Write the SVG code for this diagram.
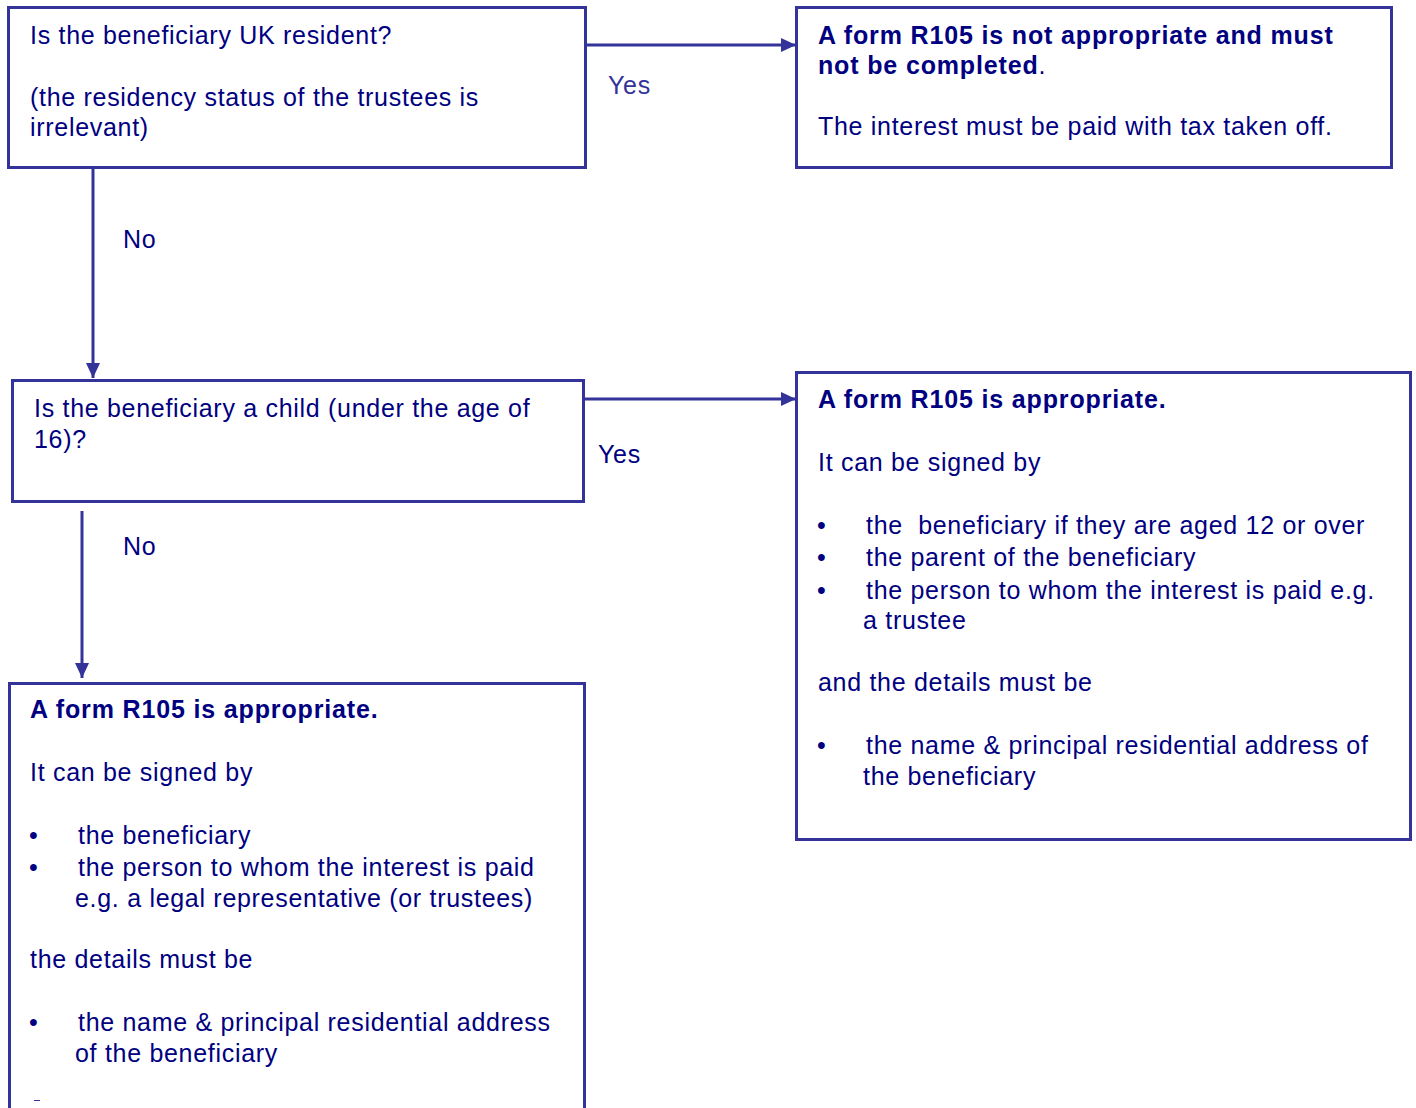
<svg xmlns="http://www.w3.org/2000/svg" width="1416" height="1108" viewBox="0 0 1416 1108">
<defs>
<marker id="ah" viewBox="0 0 15 14" refX="15" refY="7" markerWidth="15" markerHeight="14" markerUnits="userSpaceOnUse" orient="auto">
<path d="M0,0 L15,7 L0,14 Z" fill="#333399"/>
</marker>
</defs>
<style>
.box{fill:#fff;stroke:#333399;stroke-width:3}
.t{font-family:"Liberation Sans",Arial,sans-serif;font-size:25px;letter-spacing:0.7px;fill:#000080}
.b{font-weight:bold;letter-spacing:0.85px}
.pre{white-space:pre}
.lbl{font-family:"Liberation Sans",Arial,sans-serif;font-size:25px;letter-spacing:0.7px}
.conn{stroke:#333399;stroke-width:3;fill:none}
</style>
<rect width="1416" height="1108" fill="#fff"/>
<g id="connectors">
<line class="conn" x1="586" y1="45" x2="796" y2="45" marker-end="url(#ah)"/>
<line class="conn" x1="93" y1="168" x2="93" y2="378" marker-end="url(#ah)"/>
<line class="conn" x1="584" y1="399" x2="796" y2="399" marker-end="url(#ah)"/>
<line class="conn" x1="82" y1="511" x2="82" y2="678" marker-end="url(#ah)"/>
<text class="lbl" x="608" y="94" fill="#333399">Yes</text>
<text class="lbl" x="123" y="248" fill="#000080">No</text>
<text class="lbl" x="598" y="463" fill="#000080">Yes</text>
<text class="lbl" x="123" y="555" fill="#000080">No</text>
</g>
<g id="q1">
<rect class="box" x="8.5" y="7.5" width="577" height="160"/>
<text class="t" x="30" y="44">Is the beneficiary UK resident?</text>
<text class="t" x="30" y="106">(the residency status of the trustees is</text>
<text class="t" x="30" y="136">irrelevant)</text>
</g>
<g id="notAppropriate">
<rect class="box" x="796.5" y="7.5" width="595" height="160"/>
<text class="t b" x="818" y="44">A form R105 is not appropriate and must</text>
<text class="t" x="818" y="74"><tspan class="b">not be completed</tspan>.</text>
<text class="t" x="818" y="135">The interest must be paid with tax taken off.</text>
</g>
<g id="q2">
<rect class="box" x="12.5" y="380.5" width="571" height="121"/>
<text class="t" x="34" y="417">Is the beneficiary a child (under the age of</text>
<text class="t" x="34" y="448">16)?</text>
</g>
<g id="childAppropriate">
<rect class="box" x="796.5" y="372.5" width="614" height="467"/>
<text class="t b" x="818" y="408">A form R105 is appropriate.</text>
<text class="t" x="818" y="471">It can be signed by</text>
<text class="t" x="817" y="534">•</text>
<text class="t pre" x="866" y="534">the  beneficiary if they are aged 12 or over</text>
<text class="t" x="817" y="566">•</text>
<text class="t" x="866" y="566">the parent of the beneficiary</text>
<text class="t" x="817" y="599">•</text>
<text class="t" x="866" y="599">the person to whom the interest is paid e.g.</text>
<text class="t" x="863" y="629">a trustee</text>
<text class="t" x="818" y="691">and the details must be</text>
<text class="t" x="817" y="754">•</text>
<text class="t" x="866" y="754">the name &amp; principal residential address of</text>
<text class="t" x="863" y="785">the beneficiary</text>
</g>
<g id="adultAppropriate">
<rect class="box" x="9.5" y="683.5" width="575" height="440"/>
<text class="t b" x="30" y="718">A form R105 is appropriate.</text>
<text class="t" x="30" y="781">It can be signed by</text>
<text class="t" x="29" y="844">•</text>
<text class="t" x="78" y="844">the beneficiary</text>
<text class="t" x="29" y="876">•</text>
<text class="t" x="78" y="876">the person to whom the interest is paid</text>
<text class="t" x="75" y="907">e.g. a legal representative (or trustees)</text>
<text class="t" x="30" y="968">the details must be</text>
<text class="t" x="29" y="1031">•</text>
<text class="t" x="78" y="1031">the name &amp; principal residential address</text>
<text class="t" x="75" y="1062">of the beneficiary</text>
<line x1="34" y1="1100.5" x2="40" y2="1100.5" stroke="#333399" stroke-width="1"/>
</g>
</svg>
